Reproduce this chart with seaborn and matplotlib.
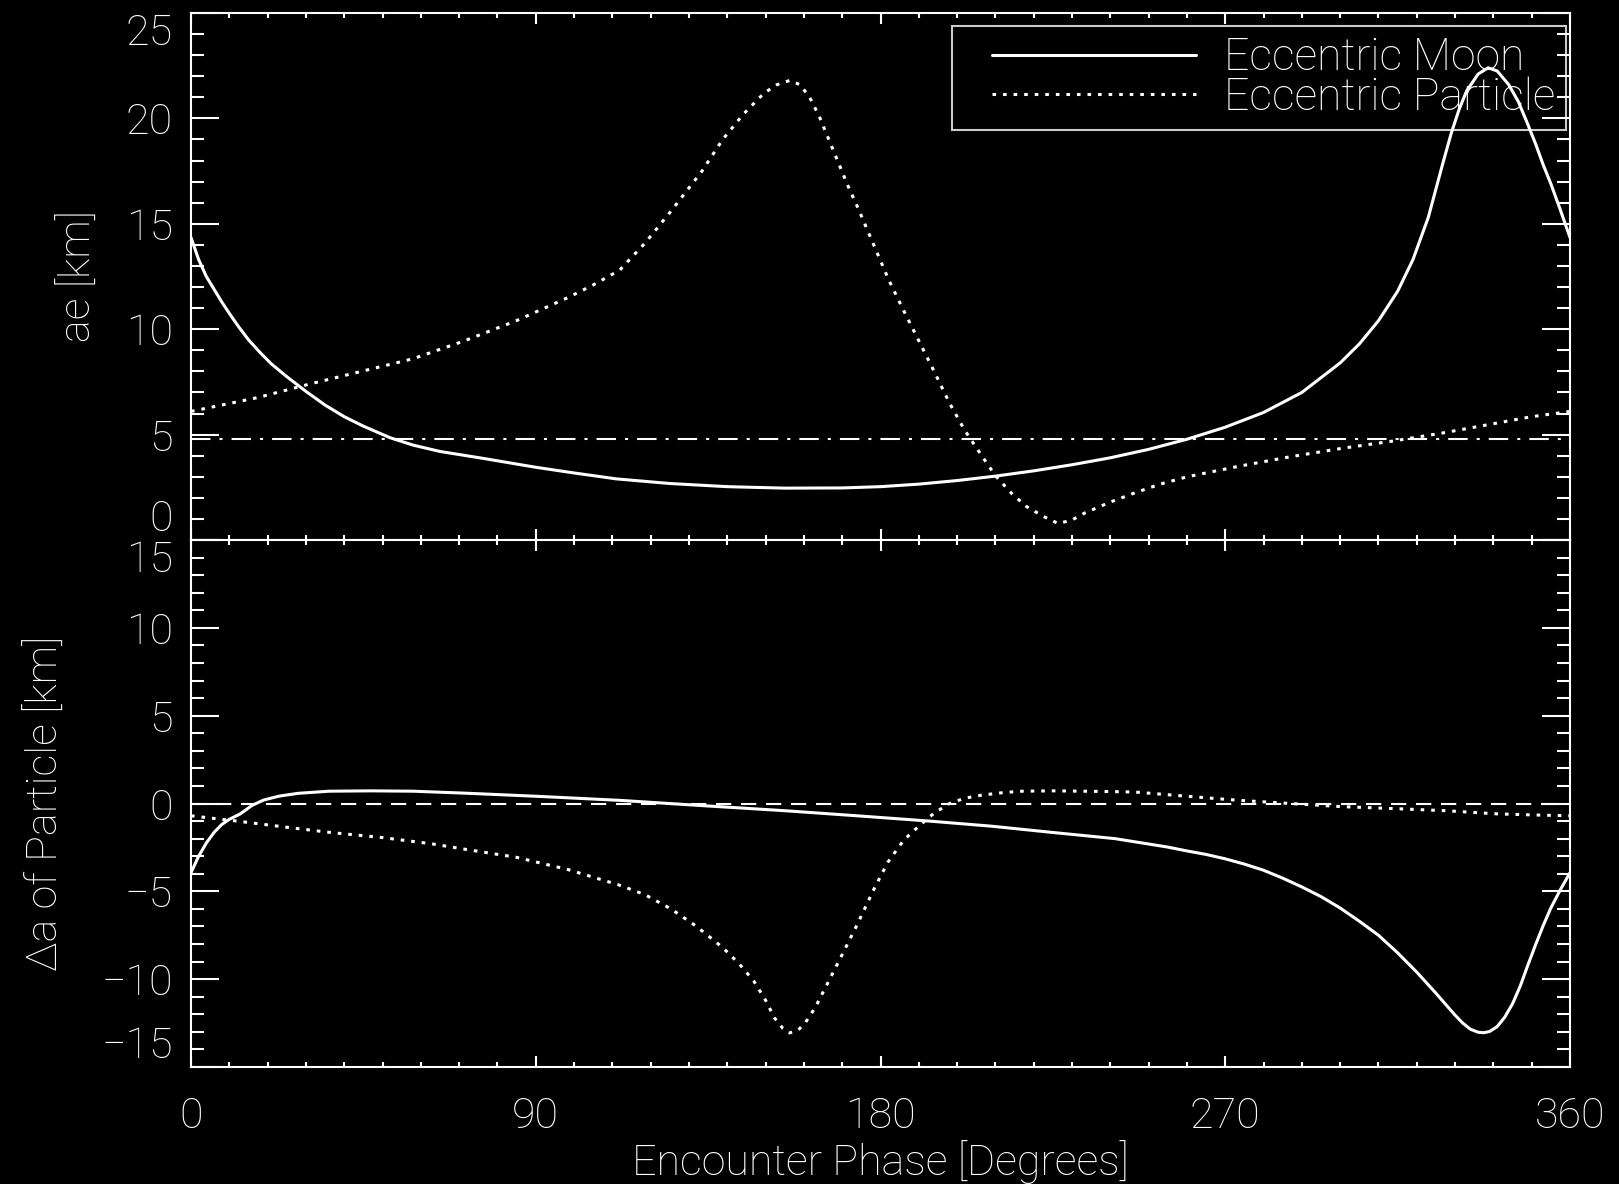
import numpy as np
import matplotlib
matplotlib.use("Agg")
import matplotlib.pyplot as plt
import seaborn as sns
from matplotlib.ticker import MultipleLocator
from matplotlib.lines import Line2D
from matplotlib.legend_handler import HandlerLine2D

# ---- eccentricity amplitude a*e [km] versus encounter phase ----
moon_ae_phase = [0, 2, 4, 6, 8, 10, 12.5, 15, 18, 21, 25, 30, 35, 40, 45, 52, 58, 65,
                 76, 90, 100, 111, 125, 140, 155, 170, 180, 190, 200, 210, 220, 230,
                 240, 250, 260, 270, 280, 290, 300, 305, 310, 315, 319, 323, 326.7,
                 329, 331, 333, 336, 338.6, 341, 344, 346.5, 348.8, 351, 353, 355,
                 357.4, 360]
moon_ae = [14.35, 13.3, 12.5, 11.9, 11.3, 10.75, 10.1, 9.5, 8.9, 8.35, 7.75, 7.05,
           6.4, 5.85, 5.4, 4.85, 4.5, 4.2, 3.88, 3.45, 3.18, 2.9, 2.68, 2.53, 2.46,
           2.47, 2.53, 2.65, 2.82, 3.03, 3.28, 3.57, 3.9, 4.3, 4.78, 5.35, 6.05, 7.0,
           8.4, 9.3, 10.4, 11.8, 13.3, 15.3, 17.8, 19.3, 20.4, 21.3, 22.1, 22.4,
           22.25, 21.6, 20.8, 19.8, 18.8, 17.8, 16.9, 15.7, 14.35]

particle_ae_phase = [0, 8, 17.5, 31, 44.5, 58, 71.4, 84.9, 98.4, 105, 111.9, 118.6,
                     125.3, 133.4, 138.8, 144.2, 149.6, 153, 156.3, 159, 161.5, 164,
                     166.5, 169, 171.5, 174, 178, 182, 186, 190, 194, 198, 202, 206.2,
                     210, 214.3, 218, 222.4, 226.4, 230, 233.2, 240, 246.6, 253,
                     260.1, 273.6, 287, 300.5, 314, 327.5, 341, 350, 360]
particle_ae = [6.1, 6.4, 6.76, 7.4, 8.0, 8.6, 9.45, 10.4, 11.5, 12.1, 12.8, 14.1,
               15.6, 17.5, 19.0, 20.2, 21.2, 21.6, 21.8, 21.6, 21.0, 20.1,
               19.0, 17.9, 16.8, 15.8, 14.1, 12.4, 10.9, 9.45, 8.0, 6.5, 5.2, 4.06,
               3.05, 2.2, 1.6, 1.13, 0.78, 0.95, 1.27, 1.8, 2.25, 2.65,
               3.0, 3.5, 3.95, 4.35, 4.7, 5.1, 5.55, 5.85, 6.1]

ae_reference = 4.8

# ---- change in semi-major axis of the particle [km] ----
moon_da_phase = [0, 2, 4, 6, 8, 10, 12.8, 16, 19, 23, 28, 36, 47, 58, 71.4, 90.3,
                 111.9, 133.4, 155, 173.9, 192.7, 208.9, 225, 241.2, 254.7, 260, 265,
                 270, 275, 280, 285, 290, 295, 300, 305, 310, 315, 320, 325, 328, 330,
                 332, 334, 336, 337.5, 339, 341, 343, 345, 347, 349, 351, 353, 355,
                 357.5, 360]
moon_da = [-3.94, -3.0, -2.25, -1.65, -1.2, -0.9, -0.6, -0.1, 0.2, 0.42, 0.58, 0.7,
           0.72, 0.7, 0.59, 0.41, 0.18, -0.12, -0.41, -0.7, -1.0, -1.29, -1.65, -2.0,
           -2.47, -2.7, -2.9, -3.15, -3.45, -3.8, -4.25, -4.75, -5.3, -5.95, -6.7,
           -7.5, -8.5, -9.6, -10.8, -11.55, -12.05, -12.5, -12.85, -13.02, -13.05,
           -12.98, -12.7, -12.15, -11.4, -10.4, -9.2, -8.05, -6.95, -5.95, -4.9,
           -3.94]

particle_da_phase = [0, 12, 23, 36.4, 50, 63, 71.4, 84.9, 98.4, 111.9, 118.6, 125.3,
                     132, 138.8, 143, 146.9, 150, 152.3, 154.5, 156.3, 158.5, 160.4,
                     163, 165.8, 170, 173.9, 178, 181.9, 186, 190, 194, 198, 202,
                     206.2, 212, 217, 225, 233, 240, 246.6, 260, 273.6, 287, 300.5,
                     314, 327.5, 341, 350, 360]
particle_da = [-0.7, -1.0, -1.3, -1.65, -1.94, -2.3, -2.6, -3.06, -3.76, -4.65, -5.2,
               -6.0, -7.0, -8.2, -9.1, -10.1, -11.2, -12.2, -12.8, -13.06, -12.9,
               -12.47, -11.6, -10.4, -8.6, -6.9, -5.0, -3.35, -2.1, -1.29, -0.55, 0.0,
               0.3, 0.47, 0.62, 0.7, 0.72, 0.7, 0.68, 0.65, 0.41, 0.18, 0.0, -0.18,
               -0.29, -0.41, -0.59, -0.65, -0.7]

da_reference = 0.0

series_labels = ["Eccentric Moon", "Eccentric Particle"]
x_ticks = [0, 90, 180, 270, 360]
ae_ticks = [0, 5, 10, 15, 20, 25]
da_ticks = [-15, -10, -5, 0, 5, 10, 15]

# ---- style: white vector graphics on black ----
sns.set_theme(style="ticks", rc={
    "figure.facecolor": "black",
    "axes.facecolor": "black",
    "savefig.facecolor": "black",
    "axes.edgecolor": "white",
    "axes.labelcolor": "white",
    "text.color": "white",
    "xtick.color": "white",
    "ytick.color": "white",
    "axes.grid": False,
})
plt.rcParams["font.family"] = ["Roboto", "DejaVu Sans"]
plt.rcParams["font.weight"] = "light"
plt.rcParams["axes.labelweight"] = "light"
plt.rcParams["lines.scale_dashes"] = False

FS = 31
LW = 2.2
SOLID = "-"
DOTTED = (0, (2.6, 5.0))

fig, (ax1, ax2) = plt.subplots(2, 1, figsize=(16.19, 11.84), dpi=100, sharex=True)
fig.subplots_adjust(left=191 / 1619, right=1570 / 1619,
                    top=1 - 13 / 1184, bottom=1 - 1067 / 1184, hspace=0)

# upper panel
sns.lineplot(x=np.array(moon_ae_phase), y=np.array(moon_ae), ax=ax1, color="white",
             lw=LW, linestyle=SOLID, sort=False, estimator=None, label=series_labels[0])
sns.lineplot(x=np.array(particle_ae_phase), y=np.array(particle_ae), ax=ax1,
             color="white", lw=LW, linestyle=DOTTED, sort=False, estimator=None,
             label=series_labels[1])
ax1.axhline(ae_reference, color="white", lw=1.5, linestyle=(0, (14, 6.5, 2.2, 6.5)))

# lower panel
sns.lineplot(x=np.array(moon_da_phase), y=np.array(moon_da), ax=ax2, color="white",
             lw=LW, linestyle=SOLID, sort=False, estimator=None, legend=False)
sns.lineplot(x=np.array(particle_da_phase), y=np.array(particle_da), ax=ax2,
             color="white", lw=LW, linestyle=DOTTED, sort=False, estimator=None,
             legend=False)
ax2.axhline(da_reference, color="white", lw=1.5, linestyle=(0, (11, 7)))

ax1.set_ylim(0, 25)
ax2.set_ylim(-15, 15)
ax2.set_xlim(0, 360)
ax2.set_xticks(x_ticks)
ax1.set_yticks(ae_ticks)
ax2.set_yticks(da_ticks)

for ax in (ax1, ax2):
    ax.xaxis.set_minor_locator(MultipleLocator(10))
    ax.yaxis.set_minor_locator(MultipleLocator(1))
    ax.tick_params(axis="both", which="both", direction="in", top=True, right=True,
                   width=1.5, color="white", labelsize=FS)
    ax.tick_params(axis="y", which="major", length=20, pad=13)
    ax.tick_params(axis="y", which="minor", length=9.4)
    ax.tick_params(axis="x", which="major", length=8, pad=21)
    ax.tick_params(axis="x", which="minor", length=3.6)
    for sp in ax.spines.values():
        sp.set_visible(True)
        sp.set_color("white")
        sp.set_linewidth(1.5)

# keep the end labels inside each panel's extent
for ax in (ax1, ax2):
    ticks = ax.yaxis.get_major_ticks()
    ticks[0].label1.set_va("bottom")
    ticks[-1].label1.set_va("top")

ax1.set_ylabel("ae [km]", fontsize=FS, fontweight="light", labelpad=19)
ax2.set_ylabel("Δa of Particle [km]", fontsize=FS, fontweight="light", labelpad=25)
ax2.set_xlabel("Encounter Phase [Degrees]", fontsize=FS, fontweight="light",
               labelpad=2)
ax1.set_xlabel("")

LEG_FS = 32
handles, labels = ax1.get_legend_handles_labels()
leg = ax1.legend(handles, labels, loc="upper right", bbox_to_anchor=(0.997, 0.9753),
                 frameon=True, fancybox=False, edgecolor="white", facecolor="none",
                 prop={"size": LEG_FS, "weight": "light"},
                 handlelength=5.25, handletextpad=0.63, borderpad=0.24,
                 labelspacing=-0.06, borderaxespad=0,
                 handler_map={Line2D: HandlerLine2D(xpad=0.65)})
leg.get_frame().set_linewidth(1.5)
for t in leg.get_texts():
    t.set_color("white")

fig.savefig("out.png", dpi=100, facecolor="black")
